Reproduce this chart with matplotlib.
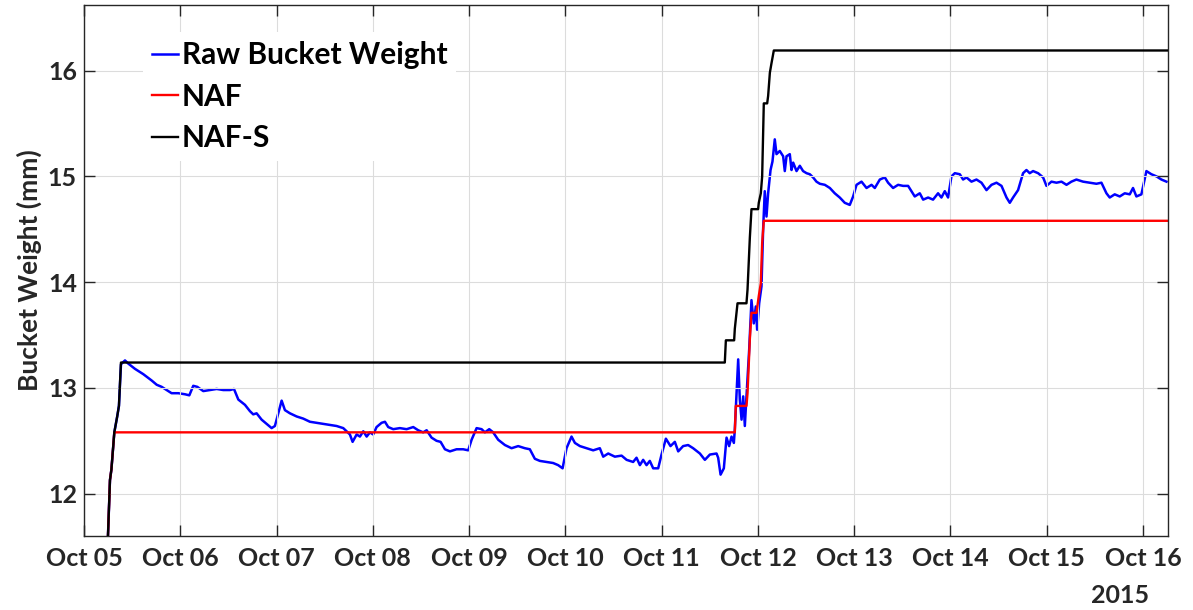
import numpy as np
import matplotlib
matplotlib.use('Agg')
import matplotlib.pyplot as plt
import matplotlib.dates as mdates

plt.rcParams['font.family'] = ['Lato', 'DejaVu Sans']
plt.rcParams['font.weight'] = 'bold'

# time in days after 2015-10-05 00:00, values in mm
raw_days = [0.245, 0.27, 0.285, 0.315, 0.345, 0.363, 0.384, 0.391, 0.426, 0.460, 0.530, 0.616,
            0.703, 0.755, 0.807, 0.858, 0.910, 0.980, 1.049, 1.094, 1.135, 1.177, 1.239, 1.308,
            1.378, 1.447, 1.516, 1.558, 1.603, 1.672, 1.724, 1.758, 1.793, 1.845, 1.897, 1.949,
            1.983, 2.018, 2.053, 2.087, 2.139, 2.209, 2.277, 2.347, 2.416, 2.485, 2.555, 2.624,
            2.693, 2.728, 2.762, 2.790, 2.832, 2.866, 2.901, 2.936, 2.970, 3.004, 3.039, 3.091,
            3.126, 3.160, 3.212, 3.281, 3.351, 3.420, 3.471, 3.523, 3.559, 3.610, 3.662, 3.704,
            3.749, 3.801, 3.870, 3.939, 3.991, 4.026, 4.078, 4.130, 4.164, 4.209, 4.250, 4.302,
            4.372, 4.441, 4.510, 4.579, 4.631, 4.683, 4.735, 4.805, 4.873, 4.925, 4.971, 5.012,
            5.064, 5.099, 5.151, 5.220, 5.289, 5.358, 5.393, 5.445, 5.514, 5.584, 5.636, 5.704,
            5.739, 5.774, 5.808, 5.843, 5.877, 5.912, 5.964, 5.999, 6.044, 6.092, 6.137, 6.172,
            6.223, 6.275, 6.327, 6.397, 6.449, 6.501, 6.570, 6.587, 6.612, 6.646, 6.674, 6.701,
            6.726, 6.750, 6.760, 6.795, 6.812, 6.830, 6.847, 6.864, 6.881, 6.909, 6.933, 6.957,
            6.978, 6.992, 7.013, 7.037, 7.054, 7.071, 7.089, 7.106, 7.131, 7.151, 7.175, 7.193,
            7.227, 7.262, 7.279, 7.297, 7.331, 7.349, 7.366, 7.401, 7.435, 7.469, 7.505, 7.539,
            7.573, 7.608, 7.643, 7.695, 7.747, 7.798, 7.850, 7.902, 7.954, 7.989, 8.024, 8.076,
            8.128, 8.180, 8.214, 8.266, 8.318, 8.352, 8.404, 8.456, 8.508, 8.560, 8.595, 8.629,
            8.681, 8.716, 8.768, 8.819, 8.871, 8.906, 8.941, 8.975, 9.010, 9.045, 9.097, 9.131,
            9.166, 9.218, 9.270, 9.322, 9.374, 9.426, 9.478, 9.530, 9.582, 9.616, 9.650, 9.702,
            9.754, 9.789, 9.823, 9.858, 9.910, 9.962, 9.997, 10.049, 10.101, 10.153, 10.205,
            10.256, 10.308, 10.377, 10.447, 10.516, 10.568, 10.620, 10.654, 10.706, 10.758,
            10.810, 10.862, 10.896, 10.931, 10.983, 11.035, 11.087, 11.139, 11.191, 11.243]
raw_vals = [11.50, 12.13, 12.23, 12.58, 12.73, 12.83, 13.22, 13.23, 13.26, 13.23, 13.18, 13.13,
            13.07, 13.03, 13.01, 12.98, 12.95, 12.95, 12.94, 12.93, 13.02, 13.01, 12.97, 12.98,
            12.99, 12.98, 12.98, 12.99, 12.89, 12.84, 12.78, 12.75, 12.76, 12.70, 12.66, 12.62,
            12.64, 12.76, 12.88, 12.79, 12.76, 12.73, 12.71, 12.68, 12.67, 12.66, 12.65, 12.64,
            12.62, 12.59, 12.56, 12.49, 12.56, 12.54, 12.59, 12.54, 12.58, 12.56, 12.63, 12.67,
            12.68, 12.63, 12.61, 12.62, 12.61, 12.63, 12.60, 12.58, 12.60, 12.53, 12.50, 12.49,
            12.42, 12.40, 12.42, 12.42, 12.41, 12.51, 12.62, 12.61, 12.58, 12.61, 12.58, 12.51,
            12.46, 12.43, 12.45, 12.43, 12.42, 12.33, 12.31, 12.30, 12.29, 12.27, 12.24, 12.43,
            12.54, 12.48, 12.45, 12.43, 12.41, 12.43, 12.35, 12.38, 12.35, 12.36, 12.32, 12.30,
            12.34, 12.27, 12.32, 12.27, 12.31, 12.24, 12.24, 12.37, 12.52, 12.45, 12.49, 12.40,
            12.45, 12.46, 12.43, 12.38, 12.32, 12.37, 12.38, 12.34, 12.18, 12.24, 12.53, 12.45,
            12.54, 12.48, 12.61, 13.27, 12.89, 12.70, 12.92, 12.64, 12.92, 13.36, 13.83, 13.61,
            13.77, 13.55, 13.80, 13.96, 14.50, 14.86, 14.62, 14.84, 15.06, 15.14, 15.35, 15.21,
            15.24, 15.19, 15.05, 15.19, 15.21, 15.06, 15.13, 15.05, 15.10, 15.05, 15.03, 15.02,
            14.99, 14.95, 14.93, 14.92, 14.89, 14.84, 14.80, 14.75, 14.73, 14.81, 14.92, 14.95,
            14.89, 14.92, 14.89, 14.97, 14.99, 14.94, 14.89, 14.92, 14.91, 14.91, 14.86, 14.81,
            14.84, 14.78, 14.80, 14.78, 14.84, 14.80, 14.86, 14.80, 15.00, 15.03, 15.02, 14.97,
            14.99, 14.95, 14.97, 14.94, 14.87, 14.92, 14.94, 14.91, 14.80, 14.75, 14.80, 14.87,
            15.03, 15.06, 15.03, 15.05, 15.03, 14.99, 14.91, 14.95, 14.94, 14.95, 14.92,
            14.95, 14.97, 14.95, 14.94, 14.93, 14.94, 14.84, 14.80, 14.83, 14.81,
            14.84, 14.83, 14.89, 14.81, 14.83, 15.05, 15.02, 15.00, 14.97, 14.95]

naf_days = [0.245, 0.27, 0.285, 0.315, 6.760, 6.770, 6.881, 6.892, 6.916, 6.933, 6.985,
            7.009, 7.030, 7.044, 7.061, 11.26]
naf_vals = [11.50, 12.13, 12.23, 12.58, 12.58, 12.83, 12.83, 12.95, 13.46, 13.71, 13.71,
            13.87, 13.99, 14.37, 14.58, 14.58]

nafs_days = [0.245, 0.27, 0.285, 0.315, 0.345, 0.363, 0.384, 6.656, 6.667, 6.753, 6.760,
             6.788, 6.881, 6.892, 6.916, 6.933, 7.002, 7.009, 7.030, 7.044, 7.061, 7.096,
             7.106, 7.124, 7.141, 7.165, 11.26]
nafs_vals = [11.50, 12.13, 12.23, 12.58, 12.73, 12.83, 13.24, 13.24, 13.45, 13.45, 13.56,
             13.80, 13.80, 13.93, 14.42, 14.69, 14.69, 14.75, 14.84, 15.00, 15.69, 15.69,
             15.76, 15.98, 16.07, 16.19, 16.19]

start = np.datetime64('2015-10-05T00:00:00')


def to_time(days):
    return start + (np.array(days) * 86400).astype('timedelta64[s]')


fig = plt.figure(figsize=(11.93, 6.10), dpi=100)
ax = fig.add_axes([0.0704, 0.1213, 0.9087, 0.8705])

ax.plot(to_time(naf_days), naf_vals, color='red', lw=1.7, label='NAF', zorder=2)
ax.plot(to_time(nafs_days), nafs_vals, color='black', lw=1.7, label='NAF-S', zorder=3)
ax.plot(to_time(raw_days), raw_vals, color='blue', lw=1.8, label='Raw Bucket Weight', zorder=1)

ax.set_xlim(to_time([0.0])[0], to_time([11.26])[0])
ax.set_ylim(11.6, 16.62)
ax.set_yticks([12, 13, 14, 15, 16])
ax.xaxis.set_major_locator(mdates.DayLocator())
ax.xaxis.set_major_formatter(mdates.DateFormatter('%b %d'))

ax.grid(True, color='#dcdcdc', lw=0.8)
ax.tick_params(direction='in', length=8, width=1, top=True, right=True,
               labelsize=18, colors='#262626', pad=5)
ax.tick_params(axis='x', pad=8)
for s in ax.spines.values():
    s.set_color('#262626')
    s.set_linewidth(1)
for lab in ax.get_xticklabels() + ax.get_yticklabels():
    lab.set_fontweight('bold')

ax.set_ylabel('Bucket Weight (mm)', fontsize=19, fontweight='bold', color='#262626', labelpad=4)
fig.text(0.939, 0.012, '2015', fontsize=18, fontweight='bold', color='#262626', ha='center')

h, l = ax.get_legend_handles_labels()
order = [2, 0, 1]
leg = ax.legend([h[i] for i in order], [l[i] for i in order], loc='upper left',
                bbox_to_anchor=(0.041, 0.977), fontsize=21.5, handlelength=0.87,
                handletextpad=0.12, labelspacing=0.45, borderpad=0.3,
                frameon=True, fancybox=False, framealpha=1, edgecolor='none')
for t in leg.get_texts():
    t.set_fontweight('bold')
    t.set_color('black')

fig.savefig('out.png', dpi=100)
